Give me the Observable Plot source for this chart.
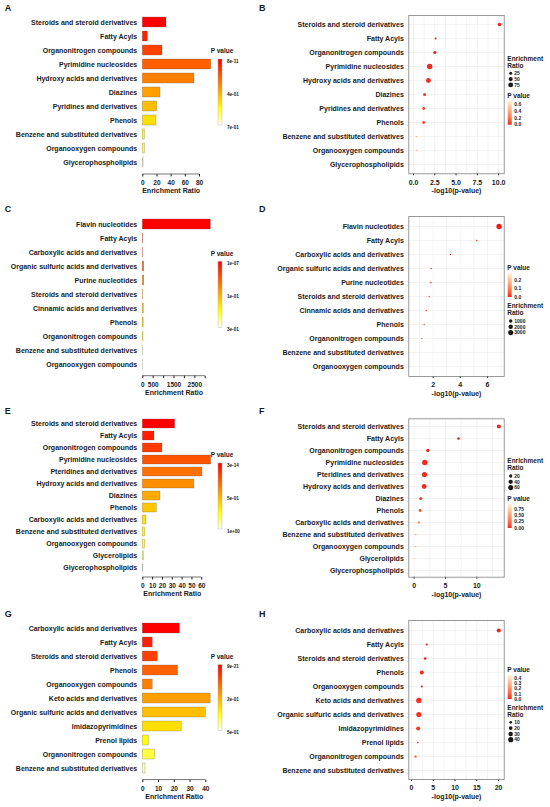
<!DOCTYPE html>
<html><head><meta charset="utf-8">
<script src="https://cdn.jsdelivr.net/npm/d3@7"></script>
<script src="https://cdn.jsdelivr.net/npm/@observablehq/plot@0.6"></script>
<style>
body{margin:0;background:#fff;}
#fig{position:relative;width:550px;height:807px;overflow:hidden;background:#fff;font-family:'Liberation Sans',Arial,Helvetica,sans-serif;color:#1a1a1a;}
.pan{position:absolute;width:275px;}
.letter{position:absolute;font-weight:bold;font-size:9px;line-height:9px;}
</style></head>
<body><div id="fig"></div>
<script>
// ---------------- DATA ----------------
const catsAB = ["Steroids and steroid derivatives","Fatty Acyls","Organonitrogen compounds","Pyrimidine nucleosides","Hydroxy acids and derivatives","Diazines","Pyridines and derivatives","Phenols","Benzene and substituted derivatives","Organooxygen compounds","Glycerophospholipids"];
const ratioA = [33.4, 7, 27.8, 96.5, 72.9, 25, 20.2, 19.3, 2.8, 2.8, 1];
const negLogPB = [10.1, 2.6, 2.5, 1.9, 1.75, 1.3, 1.2, 1.2, 0.35, 0.35, 0.15];
const ticksA = [0, 20, 40, 60, 80];
const tickLabelsA = ["0", "20", "40", "60", "80"];
const pLabelsA = ["8e-11", "4e-01", "7e-01"];
const ticksB = [0, 2.5, 5, 7.5, 10];
const tickLabelsB = ["0.0", "2.5", "5.0", "7.5", "10.0"];
const sizeBreaksB = [25, 50, 75];
const colorBreaksB = [0, 0.2, 0.4, 0.6];
const colorLabelsB = ["0.0", "0.2", "0.4", "0.6"];

const catsCD = ["Flavin nucleotides","Fatty Acyls","Carboxylic acids and derivatives","Organic sulfuric acids and derivatives","Purine nucleotides","Steroids and steroid derivatives","Cinnamic acids and derivatives","Phenols","Organonitrogen compounds","Benzene and substituted derivatives","Organooxygen compounds"];
const ratioC = [3270, 20, 18, 65, 65, 20, 45, 40, 30, 8, 8];
const negLogPD = [6.85, 5.21, 3.28, 1.85, 1.83, 1.71, 1.51, 1.34, 1.17, 0.6, 0.55];
const ticksC = [0, 500, 1000, 1500, 2000, 2500, 3000];
const tickLabelsC = ["0", "500", "", "1500", "", "2500", ""];
const pLabelsC = ["1e-07", "1e-01", "3e-01"];
const ticksD = [2, 4, 6];
const tickLabelsD = ["2", "4", "6"];
const sizeBreaksD = [1000, 2000, 3000];
const colorBreaksD = [0, 0.1, 0.2];
const colorLabelsD = ["0.0", "0.1", "0.2"];

const catsEF = ["Steroids and steroid derivatives","Fatty Acyls","Organonitrogen compounds","Pyrimidine nucleosides","Pteridines and derivatives","Hydroxy acids and derivatives","Diazines","Phenols","Carboxylic acids and derivatives","Benzene and substituted derivatives","Organooxygen compounds","Glycerolipids","Glycerophospholipids"];
const ratioE = [32.9, 11.9, 20, 69.5, 60.7, 52.5, 18, 14.2, 3.7, 2.4, 2.4, 1, 0.5];
const negLogPF = [13.5, 7.07, 2.18, 1.7, 1.65, 1.6, 1.06, 0.96, 0.74, 0.27, 0.27, 0.1, 0.02];
const ticksE = [0, 10, 20, 30, 40, 50, 60];
const tickLabelsE = ["0", "10", "20", "30", "40", "50", "60"];
const pLabelsE = ["3e-14", "5e-01", "1e+00"];
const ticksF = [0, 5, 10];
const tickLabelsF = ["0", "5", "10"];
const sizeBreaksF = [20, 40, 60];
const colorBreaksF = [0, 0.25, 0.5, 0.75];
const colorLabelsF = ["0.00", "0.25", "0.50", "0.75"];

const catsGH = ["Carboxylic acids and derivatives","Fatty Acyls","Steroids and steroid derivatives","Phenols","Organooxygen compounds","Keto acids and derivatives","Organic sulfuric acids and derivatives","Imidazopyrimidines","Prenol lipids","Organonitrogen compounds","Benzene and substituted derivatives"];
const ratioG = [23.5, 6.3, 9.5, 22.4, 6.3, 43.1, 40, 24.7, 3.8, 7.8, 1.7];
const negLogPH = [20.05, 3.5, 3.13, 2.37, 2.37, 1.68, 1.68, 1.53, 1.45, 0.92, 0.33];
const ticksG = [0, 10, 20, 30, 40];
const tickLabelsG = ["0", "10", "20", "30", "40"];
const pLabelsG = ["9e-21", "2e-01", "5e-01"];
const ticksH = [0, 5, 10, 15, 20];
const tickLabelsH = ["0", "5", "10", "15", "20"];
const sizeBreaksH = [10, 20, 30, 40];
const colorBreaksH = [0, 0.1, 0.2, 0.3, 0.4];
const colorLabelsH = ["0.0", "0.1", "0.2", "0.3", "0.4"];

// ---------------- STYLE / HELPERS ----------------
const FONT = "'Liberation Sans', Arial, Helvetica, sans-serif";
const TXT = "#1a1a1a";
const RED = "#f0201c", CREAM = "#fff4d2";
const W = 275, H = 205;
const fig = document.getElementById("fig");

function heat(n) {
  const j = Math.floor(n / 4), i = n - j, out = [];
  for (let k = 0; k < i; k++) out.push(d3.hsl(i > 1 ? k / (i - 1) * 60 : 0, 1, 0.5).formatHex());
  const s0 = 1 - 1 / (2 * j), s1 = 1 / (2 * j);
  for (let k = 0; k < j; k++) {
    const s = j > 1 ? s0 + (s1 - s0) * k / (j - 1) : 0.5;
    out.push(d3.rgb(255, 255, Math.round(255 * (1 - s))).formatHex());
  }
  return out;
}
function fmtMap(ticks, labels) { const m = new Map(ticks.map((t, i) => [t, labels[i]])); return d => m.get(d) ?? ""; }
function place(el, ox, oy) { const d = document.createElement("div"); d.className = "pan"; d.style.left = ox + "px"; d.style.top = oy + "px"; d.appendChild(el); fig.appendChild(d); }
function letter(ch, x, y) { const d = document.createElement("div"); d.className = "letter"; d.textContent = ch; d.style.left = (x - 3.5) + "px"; d.style.top = (y - 4.5) + "px"; fig.appendChild(d); }
function txt(svg, s, x, y, size, anchor) {
  svg.append("text").text(s).attr("x", x).attr("y", y).attr("font-size", size).attr("font-weight", "bold")
    .attr("font-family", FONT).attr("fill", TXT).attr("text-anchor", anchor || "start").attr("dy", "0.35em");
}
const baseStyle = (fs) => ({fontFamily: FONT, fontSize: fs, fontWeight: "bold", color: TXT, background: "transparent", overflow: "visible"});

function barPanel(o) {
  const n = o.cats.length;
  const data = o.cats.map((c, i) => ({cat: c, ratio: o.ratio[i], p: Math.pow(10, -o.nlp[i])}));
  const order = d3.sort(data, d => d.p).map(d => d.cat);
  const pad = 0.26;
  const s = (o.yLast - o.yFirst) / (n - 1);
  const r0 = o.yFirst - o.oy - s * (1 + pad) / 2;
  const r1 = r0 + s * (n + pad);
  const x0 = 142.3, x1 = x0 + o.axisMax * o.ppu;
  const ay = o.axisY - o.oy;
  const plot = Plot.plot({
    width: W, height: H,
    marginLeft: x0, marginRight: W - x1, marginTop: r0, marginBottom: H - ay,
    style: baseStyle("6.5px"),
    x: {domain: [0, o.axisMax], range: [x0, x1], ticks: o.ticks, tickFormat: fmtMap(o.ticks, o.tickLabels), tickSize: 2.5, tickPadding: 3.5, label: null},
    y: {domain: o.cats, range: [r0, r1], padding: pad, axis: null},
    color: {type: "ordinal", domain: order, range: heat(n)},
    marks: [
      Plot.barX(data, {x: "ratio", y: "cat", fill: "cat", stroke: "#4d4d4d", strokeOpacity: 0.5, strokeWidth: 0.5}),
      Plot.text(data, {x: 0, y: "cat", text: "cat", textAnchor: "end", dx: -5.6, fontSize: 7}),
      Plot.text(["Enrichment Ratio"], {text: d => d, frameAnchor: "bottom", dy: 18.5, fontSize: 7})
    ]
  });
  const svg = d3.select(plot);
  const xs = plot.scale("x");
  svg.append("line").attr("x1", xs.apply(o.ticks[0])).attr("x2", xs.apply(o.ticks[o.ticks.length - 1]))
    .attr("y1", ay).attr("y2", ay).attr("stroke", TXT).attr("stroke-width", 0.6);
  // P value colour legend (heat colours, ranked)
  const lt = o.legY - o.oy, bt = lt + 8, bh = 66;
  const gid = "heat" + o.id;
  const grad = svg.append("defs").append("linearGradient").attr("id", gid).attr("x1", 0).attr("x2", 0).attr("y1", 0).attr("y2", 1);
  const hc = heat(64);
  hc.forEach((c, i) => grad.append("stop").attr("offset", i / (hc.length - 1)).attr("stop-color", c));
  svg.append("rect").attr("x", 218).attr("y", bt).attr("width", 4).attr("height", bh).attr("fill", `url(#${gid})`).attr("stroke", "#b0b0b0").attr("stroke-width", 0.4);
  txt(svg, "P value", 222, lt, "6.5px", "middle");
  [bt + 2, bt + bh / 2 + 2, bt + bh + 2].forEach((y, i) => txt(svg, o.pLabels[i], 227, y, "4.6px", "start"));
  place(plot, 0, o.oy);
}

function dotPanel(o) {
  const ox = 275;
  const data = o.cats.map((c, i) => ({cat: c, ratio: o.ratio[i], nl: o.nlp[i], p: Math.pow(10, -o.nlp[i])}));
  const ft = o.frameTop - o.oy, fb = o.frameBottom - o.oy;
  const step = o.ticks[1] - o.ticks[0];
  const grid = d3.range(o.ticks[0] - step, o.ticks[o.ticks.length - 1] + step * 1.01, step / 2)
    .filter(v => v >= o.xDomain[0] && v <= o.xDomain[1]);
  const colorOpts = {type: "linear", domain: d3.extent(data, d => d.p), range: [RED, CREAM], interpolate: "lab"};
  const rOpts = {type: "sqrt", domain: d3.extent(o.ratio), range: [0.6, 2.7]};
  const plot = Plot.plot({
    width: W, height: H,
    marginLeft: 133.3, marginRight: 46.3, marginTop: ft, marginBottom: H - fb,
    style: baseStyle("7px"),
    x: {domain: o.xDomain, ticks: o.ticks, tickFormat: fmtMap(o.ticks, o.tickLabels), tickSize: 2, tickPadding: 3.8, label: null},
    y: {type: "point", domain: o.cats, padding: 0.6, axis: null},
    r: rOpts,
    color: colorOpts,
    marks: [
      Plot.ruleX(grid, {stroke: "#e6e6e6", strokeWidth: 0.5}),
      Plot.ruleY(o.cats, {stroke: "#e6e6e6", strokeWidth: 0.5}),
      Plot.dot(data, {x: "nl", y: "cat", r: "ratio", fill: "p"}),
      Plot.frame({stroke: "#808080", strokeWidth: 0.8}),
      Plot.text(data, {y: "cat", text: "cat", frameAnchor: "left", textAnchor: "end", dx: -5, fontSize: 7}),
      Plot.text(["-log10(p-value)"], {text: d => d, frameAnchor: "bottom", dy: 19.5, fontSize: 7})
    ]
  });
  const svg = d3.select(plot);
  const cs = Plot.scale({color: colorOpts});
  const rs = Plot.scale({r: rOpts});
  const LX = 232.3;
  function sizeLegend(y0) {
    txt(svg, "Enrichment", LX, y0, "6.5px");
    txt(svg, "Ratio", LX, y0 + 7, "6.5px");
    o.sizeBreaks.forEach((b, i) => {
      const y = y0 + 15 + i * 5.8;
      svg.append("circle").attr("cx", LX + 3.4).attr("cy", y).attr("r", rs.apply(b)).attr("fill", TXT);
      txt(svg, String(b), LX + 7, y, "5px");
    });
  }
  function colorLegend(t) {
    txt(svg, "P value", LX, t, "6.5px");
    const bt = t + 5, bh = 24, [lo, hi] = colorOpts.domain;
    const gid = "pv" + o.id;
    const grad = svg.append("defs").append("linearGradient").attr("id", gid).attr("x1", 0).attr("x2", 0).attr("y1", 0).attr("y2", 1);
    for (let k = 0; k <= 20; k++) grad.append("stop").attr("offset", k / 20).attr("stop-color", cs.apply(hi - (hi - lo) * k / 20));
    svg.append("rect").attr("x", LX + 0.4).attr("y", bt).attr("width", 4).attr("height", bh).attr("fill", `url(#${gid})`);
    o.colorBreaks.forEach((b, i) => {
      const y = bt + bh - (b - lo) / (hi - lo) * bh;
      txt(svg, o.colorLabels[i], LX + 7, y, "5px");
    });
  }
  if (o.sizeFirst) { sizeLegend(o.sizeY - o.oy); colorLegend(o.colorY - o.oy); }
  else { colorLegend(o.colorY - o.oy); sizeLegend(o.sizeY - o.oy); }
  place(plot, ox, o.oy);
}

// ---------------- PANELS ----------------
barPanel({id: "A", oy: 0, cats: catsAB, ratio: ratioA, nlp: negLogPB, ticks: ticksA, tickLabels: tickLabelsA, axisMax: 80, ppu: 0.709, yFirst: 21, yLast: 163.3, axisY: 174, legY: 51, pLabels: pLabelsA});
dotPanel({id: "B", oy: 0, cats: catsAB, ratio: ratioA, nlp: negLogPB, xDomain: [-0.55, 10.65], ticks: ticksB, tickLabels: tickLabelsB, frameTop: 15, frameBottom: 173.3, sizeBreaks: sizeBreaksB, colorBreaks: colorBreaksB, colorLabels: colorLabelsB, sizeFirst: true, sizeY: 58.3, colorY: 95.7});

barPanel({id: "C", oy: 200, cats: catsCD, ratio: ratioC, nlp: negLogPD, ticks: ticksC, tickLabels: tickLabelsC, axisMax: 3000, ppu: 0.0208, yFirst: 222.7, yLast: 365, axisY: 375.7, legY: 253.3, pLabels: pLabelsC});
dotPanel({id: "D", oy: 200, cats: catsCD, ratio: ratioC, nlp: negLogPD, xDomain: [0.21, 7.23], ticks: ticksD, tickLabels: tickLabelsD, frameTop: 216, frameBottom: 376, sizeBreaks: sizeBreaksD, colorBreaks: colorBreaksD, colorLabels: colorLabelsD, sizeFirst: false, sizeY: 306, colorY: 268});

barPanel({id: "E", oy: 400, cats: catsEF, ratio: ratioE, nlp: negLogPF, ticks: ticksE, tickLabels: tickLabelsE, axisMax: 60, ppu: 0.983, yFirst: 423.3, yLast: 567.7, axisY: 577, legY: 455, pLabels: pLabelsE});
dotPanel({id: "F", oy: 400, cats: catsEF, ratio: ratioE, nlp: negLogPF, xDomain: [-0.85, 14.36], ticks: ticksF, tickLabels: tickLabelsF, frameTop: 418.3, frameBottom: 576.7, sizeBreaks: sizeBreaksF, colorBreaks: colorBreaksF, colorLabels: colorLabelsF, sizeFirst: true, sizeY: 461, colorY: 499});

barPanel({id: "G", oy: 602, cats: catsGH, ratio: ratioG, nlp: negLogPH, ticks: ticksG, tickLabels: tickLabelsG, axisMax: 40, ppu: 1.575, yFirst: 626.3, yLast: 769.3, axisY: 779.6, legY: 656.7, pLabels: pLabelsG});
dotPanel({id: "H", oy: 602, cats: catsGH, ratio: ratioG, nlp: negLogPH, xDomain: [-0.62, 21.3], ticks: ticksH, tickLabels: tickLabelsH, frameTop: 620, frameBottom: 779, sizeBreaks: sizeBreaksH, colorBreaks: colorBreaksH, colorLabels: colorLabelsH, sizeFirst: false, sizeY: 707.3, colorY: 670});

[["A", 8.3, 8.7], ["B", 262.5, 8.7], ["C", 8.3, 209.3], ["D", 262.5, 209.3], ["E", 8.3, 411], ["F", 262.5, 411], ["G", 8.3, 614], ["H", 262.5, 614]]
  .forEach(([c, x, y]) => letter(c, x, y));
</script>
</body></html>
